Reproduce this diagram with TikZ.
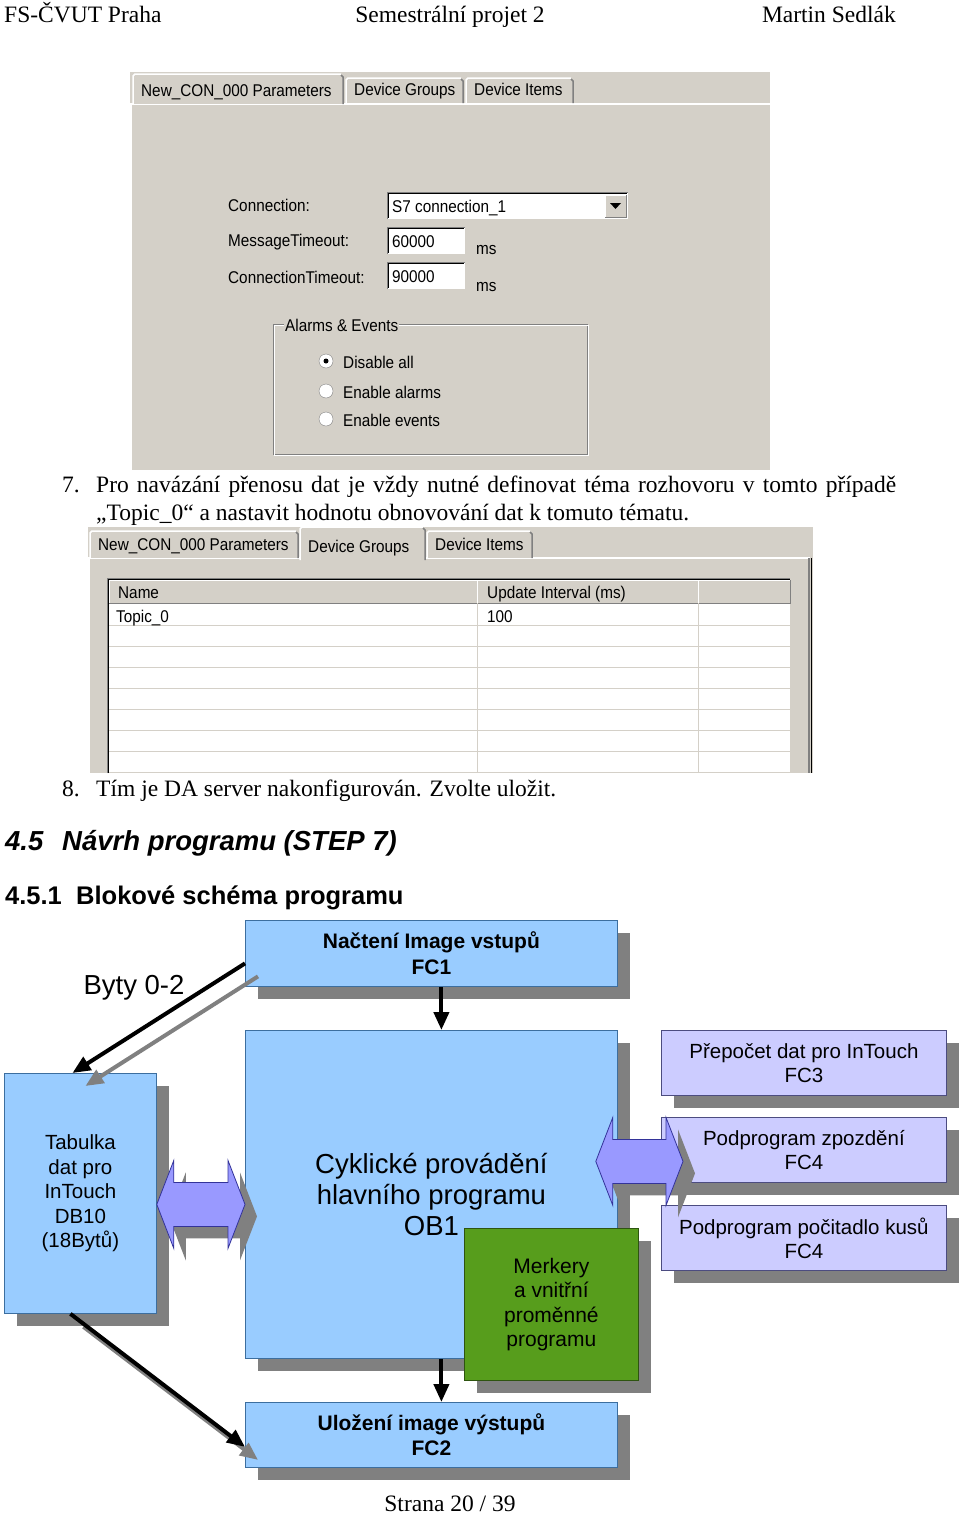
\documentclass[tikz,border=0pt]{standalone}
\usepackage{fontspec}
\setmainfont{Liberation Serif}
\setsansfont{Liberation Sans}
\newfontfamily\winfont[FakeStretch=0.9]{Liberation Sans}
\usetikzlibrary{arrows.meta,shadows,calc}

\definecolor{wingray}{HTML}{D4D0C8}
\definecolor{windark}{HTML}{808080}
\definecolor{kastenblau}{HTML}{99CCFF}
\definecolor{randblau}{HTML}{3C6E9F}
\definecolor{kastenlila}{HTML}{CCCCFF}
\definecolor{randlila}{HTML}{4C4C80}
\definecolor{kastengruen}{HTML}{579D1C}
\definecolor{randgruen}{HTML}{2E5410}
\definecolor{sipkalila}{HTML}{9999FF}
\definecolor{randsipka}{HTML}{333399}
\definecolor{schatten}{HTML}{808080}

\newcommand\setfs[2]{\fontsize{#1}{#2}\selectfont}

% karta okna: x1, y1, x2, y2, text
\newcommand\karta[5]{%
	\fill[wingray] (#1,#2) rectangle (#3,#4);
	\draw[white, line width=1.5pt] (#1,#4) -- (#1,#2+2) -- (#1+2,#2) -- (#3-2,#2);
	\draw[windark, line width=1.5pt] (#3-2,#2+1) -- (#3,#2+3) -- (#3,#4);
	\node[okno] (karta#1#2) at (#1+8,#4-8) {#5};
}
% vstupni pole: x1, y1, x2, y2
\newcommand\pole[4]{%
	\fill[white] (#1,#2) rectangle (#3,#4);
	\draw[windark] (#1,#4) -- (#1,#2) -- (#3,#2);
	\draw[black] (#1+1,#4-1) -- (#1+1,#2+1) -- (#3-1,#2+1);
	\draw[wingray] (#1+1,#4) -- (#3,#4) -- (#3,#2+1);
}
% dvojita sipka: levy hrot, pravy hrot, posun, styl
\newcommand\dvojsipka[4]{%
	\path[#4] let \p1=#1, \p2=#2 in
		(\x1+#3,\y1-#3) -- ++(17pt,44pt) -- ++(0pt,-22pt) -- (\x2+#3-17pt,\y1-#3+22pt)
		-- ++(0pt,22pt) -- (\x2+#3,\y1-#3) -- ++(-17pt,-44pt) -- ++(0pt,22pt)
		-- (\x1+#3+17pt,\y1-#3-22pt) -- ++(0pt,-22pt) -- cycle;
}

\begin{document}
\begin{tikzpicture}[x=1pt,y=-1pt,
	sazba/.style={inner sep=0pt, font=\setfs{23.5}{28}},
	okno/.style={inner sep=0pt, anchor=base west, font=\winfont\setfs{17}{20}},
	blok/.style={draw=randblau, line width=0.8pt, inner sep=0pt, align=center, anchor=north west,
		drop shadow={shadow xshift=13pt, shadow yshift=-13pt, fill=schatten, opacity=1}},
	modry/.style={blok, fill=kastenblau},
	fialovy/.style={blok, fill=kastenlila, draw=randlila, minimum width=285pt, minimum height=65pt,
		font=\sffamily\setfs{20.5}{24}},
	zeleny/.style={blok, fill=kastengruen, draw=randgruen},
	sipka/.style={line width=4pt, -{Triangle[length=18pt,width=15pt]}},
	stinsipka/.style={sipka, draw=schatten},
	dvoj/.style={fill=sipkalila, draw=randsipka, line width=0.8pt},
	stin/.style={fill=schatten}]

	\useasboundingbox[fill=white] (0,0) rectangle (960,1515);

	%zahlavi stranky
	\node[sazba, anchor=base west] (hlava1) at (4,23) {FS-ČVUT Praha};
	\node[sazba, anchor=base] (hlava2) at (450,23) {Semestrální projet 2};
	\node[sazba, anchor=base east] (hlava3) at (896,23) {Martin Sedlák};

	%prvni okno - parametry spojeni
	\fill[wingray] (130,72) rectangle (770,470);
	\draw[white, line width=1.5pt] (131,470) -- (131,104) -- (770,104);
	\karta{346}{78}{463}{103}{Device Groups}
	\karta{466}{78}{573}{103}{Device Items}
	\karta{133}{74}{343}{104}{New\_CON\_000 Parameters}

	\node[okno] (conlbl) at (228,211) {Connection:};
	\node[okno] (msglbl) at (228,246) {MessageTimeout:};
	\node[okno] (tmolbl) at (228,283) {ConnectionTimeout:};
	\pole{387}{192}{628}{219}
	\fill[wingray] (605,195) rectangle (626,217);
	\draw[white] (605,217) -- (605,195) -- (626,195);
	\draw[windark] (605,217) -- (626,217) -- (626,195);
	\fill[black] (610,203) -- (621,203) -- (615.5,209) -- cycle;
	\node[okno] (conval) at (392,212) {S7 connection\_1};
	\pole{387}{227}{465}{254}
	\node[okno] (msgval) at (392,247) {60000};
	\node[okno] (msgms) at (476,254) {ms};
	\pole{387}{262}{465}{289}
	\node[okno] (tmoval) at (392,282) {90000};
	\node[okno] (tmoms) at (476,291) {ms};

	%skupina alarmu
	\draw[windark] (273,324) rectangle (587,454);
	\draw[white] (274,325) rectangle (588,455);
	\node[okno, fill=wingray, inner xsep=1pt] (alarmy) at (284,331) {Alarms \& Events};
	\draw[windark, fill=white] (326,361) circle (7pt);
	\fill[black] (326,361) circle (2.5pt);
	\draw[windark, fill=white] (326,391) circle (7pt);
	\draw[windark, fill=white] (326,419) circle (7pt);
	\node[okno] (radio1) at (343,368) {Disable all};
	\node[okno] (radio2) at (343,398) {Enable alarms};
	\node[okno] (radio3) at (343,426) {Enable events};

	%bod 7
	\node[sazba, anchor=base west] (bod7) at (62,492) {7.};
	\node[sazba, anchor=base west] (bod7a) at (96,492) {\makebox[800pt][s]{Pro navázání přenosu dat je vždy nutné definovat téma rozhovoru v tomto případě}};
	\node[sazba, anchor=base west] (bod7b) at (96,520) {„Topic\_0“ a nastavit hodnotu obnovování dat k tomuto tématu.};

	%druhe okno - skupiny
	\fill[wingray] (88,527) rectangle (813,773);
	\draw[white, line width=1.5pt] (89,773) -- (89,558) -- (810,558);
	\karta{90}{531}{298}{558}{New\_CON\_000 Parameters}
	\karta{427}{531}{532}{558}{Device Items}
	\karta{300}{527}{425}{560}{Device Groups}
	\draw[windark, line width=2pt] (809,558) -- (809,773);
	\draw[black] (811.5,558) -- (811.5,773);

	\fill[white] (107,578) rectangle (790,773);
	\foreach \a/\b in {109/477, 477/698, 698/790}{
		\fill[wingray] (\a,580) rectangle (\b,603);
		\draw[white] (\a,603) -- (\a,580) -- (\b,580);
		\draw[windark] (\a,603) -- (\b,603) -- (\b,580);
	}
	\foreach \r in {625,646,...,772}{
		\draw[wingray] (109,\r) -- (790,\r);
	}
	\draw[wingray] (477,603) -- (477,773);
	\draw[wingray] (698,603) -- (698,773);
	\draw[windark] (107,773) -- (107,578) -- (790,578);
	\draw[black] (108,773) -- (108,579) -- (790,579);
	\node[okno] (hdrjmeno) at (118,598) {Name};
	\node[okno] (hdrint) at (487,598) {Update Interval (ms)};
	\node[okno] (radjmeno) at (116,622) {Topic\_0};
	\node[okno] (radint) at (487,622) {100};

	%bod 8 a nadpisy
	\node[sazba, anchor=base west] (bod8) at (62,796) {8.};
	\node[sazba, anchor=base west] (bod8a) at (96,796) {Tím je DA server nakonfigurován. Zvolte uložit.};
	\node[inner sep=0pt, anchor=base west, font=\sffamily\bfseries\itshape\setfs{27.5}{32}] (nadpis1) at (5,850) {4.5};
	\node[inner sep=0pt, anchor=base west, font=\sffamily\bfseries\itshape\setfs{27.5}{32}] (nadpis1a) at (62,850) {Návrh programu (STEP 7)};
	\node[inner sep=0pt, anchor=base west, font=\sffamily\bfseries\setfs{25.5}{28}] (nadpis2) at (5,904) {4.5.1};
	\node[inner sep=0pt, anchor=base west, font=\sffamily\bfseries\setfs{25.5}{28}] (nadpis2a) at (76,904) {Blokové schéma programu};

	%blokove schema
	\node[modry, minimum width=372pt, minimum height=66pt, font={\sffamily\bfseries\setfs{21}{26}}] (fc1) at (245,920) {Načtení Image vstupů\\FC1};
	\node[modry, minimum width=372pt, minimum height=328pt, font={\sffamily\setfs{27.5}{31}}] (ob1) at (245,1030) {Cyklické provádění\\hlavního programu\\OB1};
	\node[zeleny, minimum width=174pt, minimum height=152pt, font={\sffamily\setfs{21}{24.5}}] (merk) at (464,1228) {Merkery\\a vnitřní\\proměnné\\programu};
	\node[modry, minimum width=372pt, minimum height=65pt, font={\sffamily\bfseries\setfs{21}{25}}] (fc2) at (245,1402) {Uložení image výstupů\\FC2};
	\node[modry, minimum width=152pt, minimum height=240pt, font={\sffamily\setfs{20.5}{24.5}}] (tab) at (4,1073) {Tabulka\\dat pro\\InTouch\\DB10\\(18Bytů)};
	\node[fialovy] (fc3) at (661,1030) {Přepočet dat pro InTouch\\FC3};
	\node[fialovy] (fc4a) at (661,1117) {Podprogram zpozdění\\FC4};
	\node[fialovy] (fc4b) at (661,1205) {Podprogram počitadlo kusů\\FC4};

	\node[inner sep=0pt, font=\sffamily\setfs{27.5}{30}] (byty) at (134,988) {Byty 0-2};

	%spojnice
	\draw[stinsipka] ([xshift=13pt,yshift=-23pt]fc1.west) -- ([xshift=5pt,yshift=-13pt]tab.north);
	\draw[sipka] ([yshift=-10pt]fc1.west) -- ([xshift=-8pt]tab.north);
	\draw[stinsipka] ([xshift=3pt,yshift=-13pt]tab.south) -- ([xshift=13pt,yshift=-25pt]fc2.west);
	\draw[sipka] ([xshift=-10pt]tab.south) -- ([yshift=-12pt]fc2.west);
	\draw[sipka] ([xshift=10pt]fc1.south) -- ([xshift=10pt]ob1.north);
	\draw[sipka] ([xshift=10pt]ob1.south) -- ([xshift=10pt]fc2.north);

	\dvojsipka{([yshift=-11pt]tab.east)}{([yshift=-10pt]ob1.west)}{12pt}{stin}
	\dvojsipka{([yshift=-11pt]tab.east)}{([yshift=-10pt]ob1.west)}{0pt}{dvoj}
	\dvojsipka{([xshift=-22pt,yshift=33pt]ob1.east)}{([xshift=22pt,yshift=-11.5pt]fc4a.west)}{12pt}{stin}
	\dvojsipka{([xshift=-22pt,yshift=33pt]ob1.east)}{([xshift=22pt,yshift=-11.5pt]fc4a.west)}{0pt}{dvoj}

	%zapati
	\node[sazba, anchor=base] (zapati) at (450,1511) {Strana 20 / 39};
\end{tikzpicture}
\end{document}
